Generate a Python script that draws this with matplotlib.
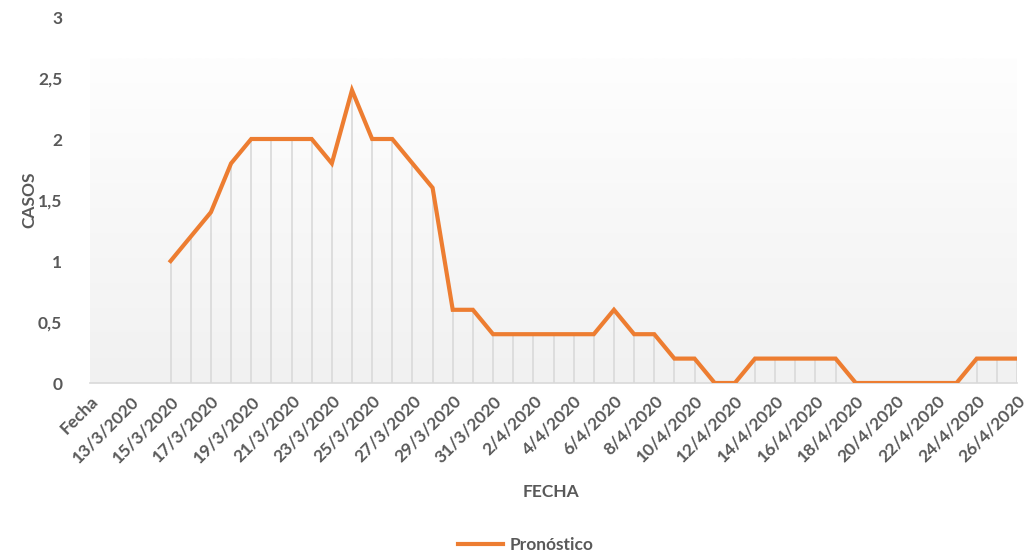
import matplotlib.pyplot as plt, numpy as np, pandas as pd

# categories: header cell "Fecha" then one entry per day
dates = pd.date_range("2020-03-12", "2020-04-26", freq="D")
categories = ["Fecha"] + [f"{d.day}/{d.month}/{d.year}" for d in dates]

# Pronóstico values (None where there is no forecast yet)
pronostico = [None, None, None, None,
              1.0, 1.2, 1.4, 1.8, 2.0, 2.0, 2.0, 2.0, 1.8, 2.4, 2.0, 2.0, 1.8, 1.6,
              0.6, 0.6, 0.4, 0.4, 0.4, 0.4, 0.4, 0.4, 0.6, 0.4, 0.4, 0.2, 0.2,
              0.0, 0.0, 0.2, 0.2, 0.2, 0.2, 0.2, 0.0, 0.0, 0.0, 0.0, 0.0, 0.0,
              0.2, 0.2, 0.2]

yticks = [0, 0.5, 1, 1.5, 2, 2.5, 3]
ytick_labels = ["0", "0,5", "1", "1,5", "2", "2,5", "3"]

plt.rcParams['font.family'] = ['Lato', 'DejaVu Sans']
grey = "#595959"
orange = "#ED7D31"

fig = plt.figure(figsize=(10.29, 5.54), dpi=100)
ax = fig.add_axes([90/1029, 1-383/554, (1017-90)/1029, (383-17)/554])

x = np.arange(len(categories))
y = np.array([np.nan if v is None else v for v in pronostico], dtype=float)

# gradient background (light grey at bottom -> white near the top)
grad = np.linspace(0.0, 1.0, 256).reshape(-1, 1)
ax.imshow(grad, extent=[0, len(categories)-1, 0, 2.66], aspect="auto",
          cmap=plt.matplotlib.colors.LinearSegmentedColormap.from_list("g", ["#f1f1f1", "#fefefe"]),
          vmin=0, vmax=1, origin="lower", zorder=0)

# drop lines
mask = ~np.isnan(y)
ax.vlines(x[mask], 0, y[mask], color="#d9d9d9", lw=1.2, zorder=1)
line, = ax.plot(x, y, color=orange, lw=3, solid_joinstyle="miter", zorder=3, label="Pronóstico")

ax.set_xlim(0, len(categories)-1)
ax.set_ylim(0, 3)
ax.set_yticks(yticks)
ax.set_yticklabels(ytick_labels)
ax.set_xticks(x[::2])
ax.set_xticklabels(categories[::2], rotation=45, ha="right", rotation_mode="anchor")
for s in ["top", "right", "left"]:
    ax.spines[s].set_visible(False)
ax.spines["bottom"].set_color("#d9d9d9")
ax.spines["bottom"].set_linewidth(1.2)
ax.tick_params(length=0, colors=grey, labelsize=12.5)
ax.tick_params(axis="y", pad=20)
ax.tick_params(axis="x", pad=7)
for t in ax.get_xticklabels() + ax.get_yticklabels():
    t.set_fontweight("bold")

ax.set_ylabel("CASOS", color=grey, fontsize=12.5, fontweight="bold", labelpad=0)
fig.text(551/1029, 1-492/554, "FECHA", color=grey, fontsize=12.5, fontweight="bold", ha="center", va="center")

leg = fig.legend(handles=[line], loc="center", bbox_to_anchor=(526/1029, 1-545/554),
                 frameon=False, handlelength=2.6, handletextpad=0.4, fontsize=12.5)
for t in leg.get_texts():
    t.set_color(grey)
    t.set_fontweight("bold")

fig.savefig("out.png", dpi=100, facecolor="white")
